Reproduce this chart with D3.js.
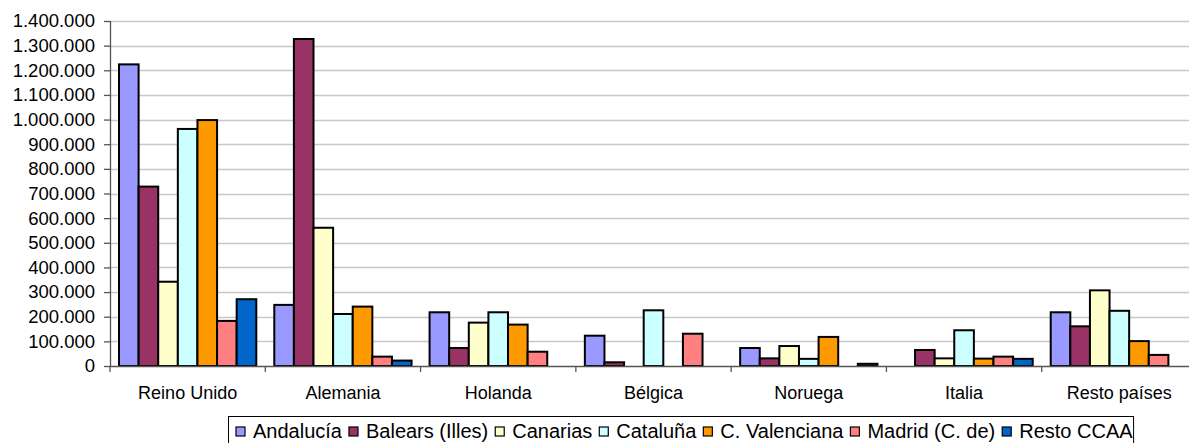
<!DOCTYPE html>
<html>
<head>
<meta charset="utf-8">
<title>Turistas por país y CCAA</title>
<style>
  body { margin: 0; background: #fff; }
  svg text { font-family: "Liberation Sans", Arial, sans-serif; fill: #000; }
</style>
</head>
<body>
<div id="chart"></div>
<script src="https://d3js.org/d3.v7.min.js"></script>
<script>

// countries (x categories)
var paises = ["Reino Unido", "Alemania", "Holanda", "Bélgica", "Noruega", "Italia", "Resto países"];

// regions (series)
var ccaa = ["Andalucía", "Balears (Illes)", "Canarias", "Cataluña", "C. Valenciana", "Madrid (C. de)", "Resto CCAA"];
var colores = ["#9999ff", "#993366", "#ffffcc", "#ccffff", "#ff9900", "#ff8080", "#0066cc"];

// values per region, one per country
var andalucia    = [1224000, 248000, 218000, 123000, 73000, 0, 218000];
var balears      = [728000, 1327000, 73000, 15000, 31000, 65000, 161000];
var canarias     = [342000, 561000, 176000, 0, 81000, 31000, 307000];
var cataluna     = [962000, 211000, 218000, 226000, 29000, 145000, 224000];
var cValenciana  = [998000, 241000, 168000, 0, 118000, 30000, 101000];
var madrid       = [183000, 38000, 58000, 131000, 0, 38000, 45000];
var restoCCAA    = [271000, 22000, 0, 0, 9000, 29000, 0];

var yTicks = [0, 100000, 200000, 300000, 400000, 500000, 600000, 700000, 800000, 900000, 1000000, 1100000, 1200000, 1300000, 1400000];

var series = [andalucia, balears, canarias, cataluna, cValenciana, madrid, restoCCAA];

var width = 1189, height = 443;
var plotLeft = 110, plotRight = 1197, plotTop = 21, plotBottom = 366;

var svg = d3.select("#chart").append("svg")
    .attr("width", width)
    .attr("height", height);

var es = d3.formatLocale({decimal: ",", thousands: ".", grouping: [3], currency: ["", " €"]});
var fmt = es.format(",d");

var x = d3.scaleBand().domain(paises).range([plotLeft, plotRight]).padding(0);
var xs = d3.scaleBand().domain(ccaa).range([9, x.bandwidth() - 9]).padding(0);
var y = d3.scaleLinear().domain([0, 1400000]).range([plotBottom, plotTop]);

// gridlines
svg.append("g")
  .selectAll("line")
  .data(yTicks.slice(1))
  .enter().append("line")
    .attr("x1", plotLeft).attr("x2", width)
    .attr("y1", function(d) { return Math.round(y(d)) + 0.5; })
    .attr("y2", function(d) { return Math.round(y(d)) + 0.5; })
    .attr("stroke", "#c8c8c8")
    .attr("stroke-width", 1.5);

// bars
var rows = [];
paises.forEach(function(p, i) {
  ccaa.forEach(function(c, j) {
    rows.push({pais: p, ccaa: c, v: series[j][i], color: colores[j]});
  });
});

svg.append("g")
  .selectAll("rect")
  .data(rows.filter(function(d) { return d.v > 0; }))
  .enter().append("rect")
    .attr("x", function(d) { return x(d.pais) + xs(d.ccaa); })
    .attr("y", function(d) { return y(d.v); })
    .attr("width", xs.bandwidth())
    .attr("height", function(d) { return y(0) - y(d.v); })
    .attr("fill", function(d) { return d.color; })
    .attr("stroke", "#000")
    .attr("stroke-width", 2);

// y axis
var yAxis = svg.append("g")
    .attr("transform", "translate(" + plotLeft + ",0)")
    .call(d3.axisLeft(y).tickValues(yTicks).tickFormat(fmt).tickSize(6).tickPadding(9));
yAxis.selectAll("path, line").attr("stroke", "#555").attr("stroke-width", 1.3);
yAxis.selectAll("text").style("font-size", "18.5px").attr("font-family", null);
yAxis.select(".domain").attr("d", "M0.5," + plotTop + "V" + plotBottom);

// x axis
var xAxis = svg.append("g")
    .attr("transform", "translate(0," + plotBottom + ")");
xAxis.append("line")
    .attr("x1", plotLeft).attr("x2", width)
    .attr("y1", 0.5).attr("y2", 0.5)
    .attr("stroke", "#555").attr("stroke-width", 1.3);
xAxis.selectAll(".tk")
  .data(paises)
  .enter().append("line")
    .attr("class", "tk")
    .attr("x1", function(d) { return x(d); })
    .attr("x2", function(d) { return x(d); })
    .attr("y1", 0).attr("y2", 6)
    .attr("stroke", "#555").attr("stroke-width", 1.3);
xAxis.selectAll("text")
  .data(paises)
  .enter().append("text")
    .attr("x", function(d) { return x(d) + x.bandwidth() / 2; })
    .attr("y", 33)
    .attr("text-anchor", "middle")
    .style("font-size", "18px")
    .text(function(d) { return d; });

// legend
var legend = svg.append("g");
var lx = 228.5, ly = 416.5;
var border = legend.append("rect")
    .attr("x", lx).attr("y", ly)
    .attr("height", 40)
    .attr("fill", "#fff")
    .attr("stroke", "#000")
    .attr("stroke-width", 1);

var cx = lx + 7.5;
ccaa.forEach(function(c, j) {
  legend.append("rect")
      .attr("x", cx).attr("y", 427)
      .attr("width", 9).attr("height", 9)
      .attr("fill", colores[j])
      .attr("stroke", "#000")
      .attr("stroke-width", 1.2);
  var t = legend.append("text")
      .attr("x", cx + 17).attr("y", 438)
      .style("font-size", "20px")
      .text(c);
  cx += 17 + t.node().getComputedTextLength() + 7;
});
border.attr("width", cx - 7 + 1 - lx);

</script>
</body>
</html>
